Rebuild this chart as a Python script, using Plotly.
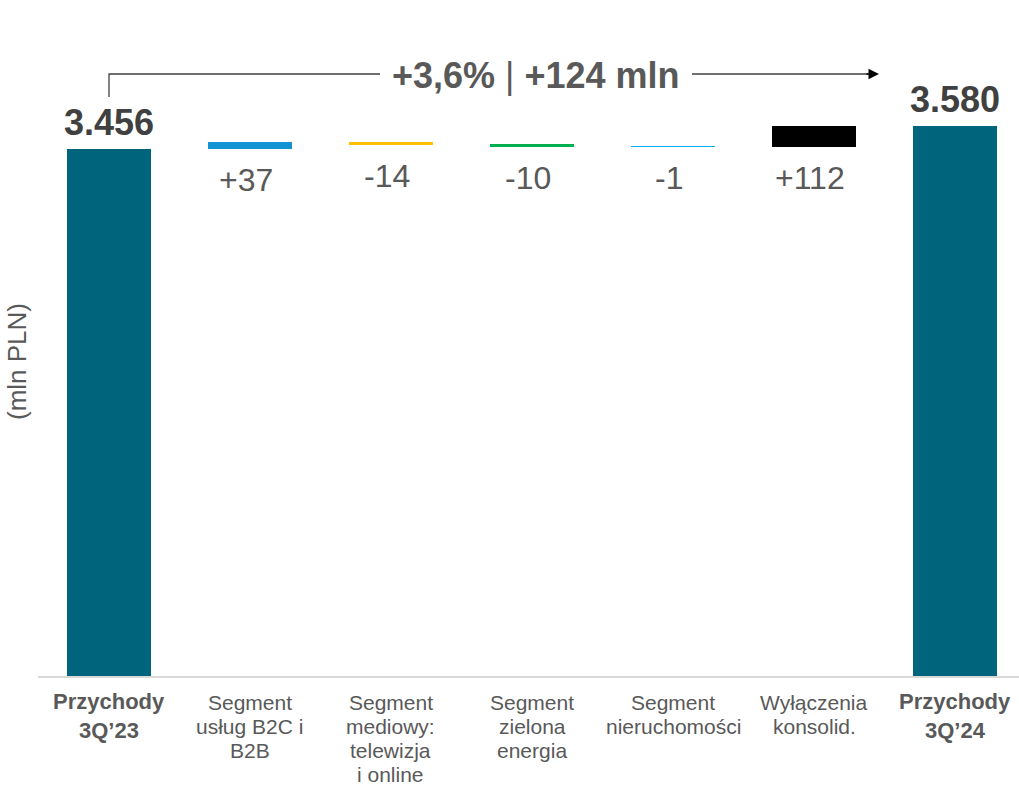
import plotly.graph_objects as go

# ---- data ----
categories = ["Przychody\n3Q’23", "Segment\nusług B2C i\nB2B", "Segment\nmediowy:\ntelewizja\ni online",
              "Segment\nzielona\nenergia", "Segment\nnieruchomości", "Wyłączenia\nkonsolid.", "Przychody\n3Q’24"]
start_total = 3456
deltas = [37, -14, -10, -1, 112]
end_total = 3580
bar_colors = ["#00657C", "#1592D4", "#FFC000", "#00B050", "#00B0F0", "#000000", "#00657C"]
y_title = "(mln PLN)"

# ---- derived bar geometry (from data) ----
xcats = [c.replace("\n", " ") for c in categories]
bases, heights = [0], [start_total]
cum = start_total
for d in deltas:
    bases.append(cum)
    heights.append(d)
    cum += d
bases.append(0)
heights.append(end_total)

FONT = "Liberation Sans, Arial, sans-serif"

fig = go.Figure()
fig.add_trace(go.Bar(
    x=xcats, y=heights, base=bases,
    marker=dict(color=bar_colors, line=dict(width=0)),
    width=0.595, hoverinfo="skip", showlegend=False,
))

annotations = []
# value labels
for i, (c, b, h) in enumerate(zip(xcats, bases, heights)):
    if i == 0 or i == len(xcats) - 1:
        txt = f"{h:,}".replace(",", ".")
        annotations.append(dict(x=c, y=b + h, xref="x", yref="y", text=f"<b>{txt}</b>",
                                showarrow=False, yanchor="middle", yshift=27,
                                font=dict(family=FONT, size=36, color="#404040")))
    else:
        low = min(b, b + h)
        annotations.append(dict(x=c, y=low, xref="x", yref="y", text=f"{h:+d}",
                                showarrow=False, yanchor="middle", yshift=-31, xshift=-4,
                                font=dict(family=FONT, size=32, color="#595959")))

# category labels (one annotation per line)
for i, (c, label) in enumerate(zip(xcats, categories)):
    bold = i == 0 or i == len(xcats) - 1
    lines = label.split("\n")
    for j, ln in enumerate(lines):
        if bold:
            shift = -25 - 29 * j
            t = f"<b>{ln}</b>"
            f = dict(family=FONT, size=22, color="#595959")
        else:
            shift = -26 - 24 * j
            t = ln
            f = dict(family=FONT, size=21, color="#595959")
        annotations.append(dict(x=c, y=0, xref="x", yref="paper", text=t, showarrow=False,
                                yanchor="middle", yshift=shift, font=f))

# growth label
diff = end_total - start_total
pct = diff / start_total * 100
pct_txt = f"{pct:+.1f}%".replace(".", ",")
annotations.append(dict(x=(536 - 38) / 981, y=(676 - 75) / 656, xref="paper", yref="paper",
                        xanchor="center", yanchor="middle",
                        text=f"<b>{pct_txt}</b> | <b>{diff:+d} mln</b>", showarrow=False,
                        font=dict(family=FONT, size=36, color="#595959")))
# arrow head
annotations.append(dict(x=(879 - 38) / 981, y=(676 - 74) / 656, xref="paper", yref="paper",
                        ax=-14, ay=0, text="", showarrow=True, arrowhead=2, arrowsize=1.4,
                        arrowwidth=1.5, arrowcolor="#000000"))
# y title
annotations.append(dict(x=-(38 - 17) / 981, y=(676 - 362) / 656, xref="paper", yref="paper",
                        xanchor="center", yanchor="middle",
                        text=y_title, textangle=-90, showarrow=False,
                        font=dict(family=FONT, size=26, color="#595959")))

py = lambda p: (676 - p) / 656
px = lambda p: (p - 38) / 981
shapes = [
    dict(type="path", xref="paper", yref="paper",
         path=f"M {px(109)} {py(97)} L {px(109)} {py(74)} L {px(380)} {py(74)}",
         line=dict(color="#404040", width=1.3)),
    dict(type="line", xref="paper", yref="paper", x0=px(692), x1=px(868), y0=py(74), y1=py(74),
         line=dict(color="#404040", width=1.3)),
]

fig.update_layout(
    width=1019, height=785,
    margin=dict(l=38, r=0, t=20, b=109),
    plot_bgcolor="white", paper_bgcolor="white",
    bargap=0,
    xaxis=dict(type="category", range=[-0.5, 6.45], showticklabels=False, showgrid=False,
               showline=True, linecolor="#D9D9D9", linewidth=2, ticks="", zeroline=False),
    yaxis=dict(range=[623, 4150], visible=False, showgrid=False, zeroline=False),
    annotations=annotations,
    shapes=shapes,
    font=dict(family=FONT),
)

fig.write_html("out.html")
